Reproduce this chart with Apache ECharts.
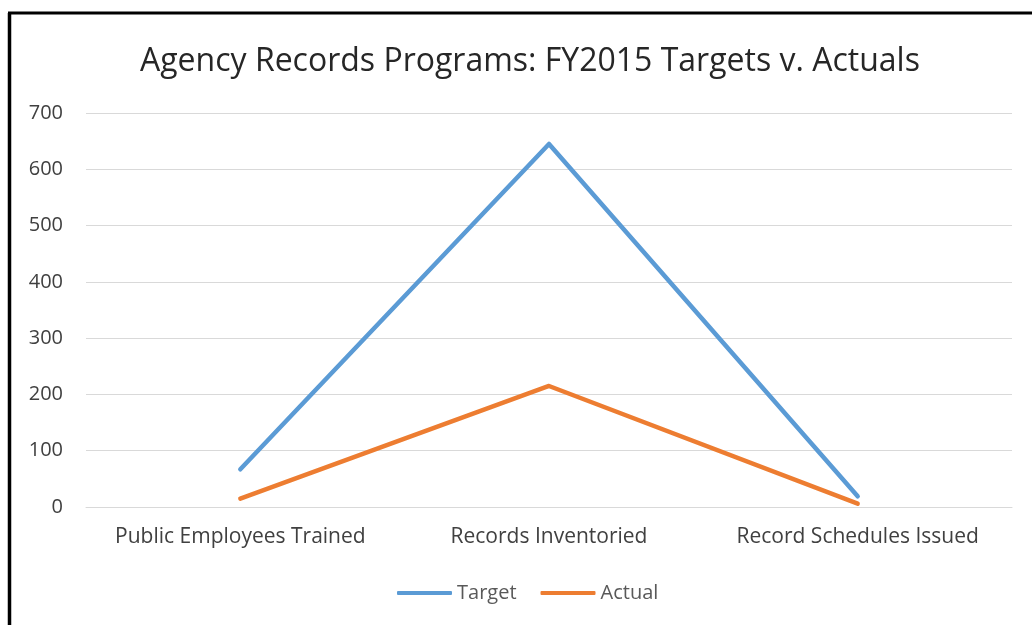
<!DOCTYPE html>
<html>
<head>
<meta charset="utf-8">
<script src="https://cdn.jsdelivr.net/npm/echarts@6/dist/echarts.min.js"></script>
<style>
  html, body { margin: 0; padding: 0; background: #fff; }
  #chart { width: 1032px; height: 625px; }
</style>
</head>
<body>
<div id="chart"></div>
<script>
// categories and values
var categories = ['Public Employees Trained', 'Records Inventoried', 'Record Schedules Issued'];
var targetData = [67, 645, 19];
var actualData = [15, 215, 6];
var yTicks = [0, 100, 200, 300, 400, 500, 600, 700];

var chart = echarts.init(document.getElementById('chart'));

chart.setOption({
  backgroundColor: '#fff',
  textStyle: { fontFamily: 'Open Sans' },
  title: {
    text: 'Agency Records Programs: FY2015 Targets v. Actuals',
    left: 135,
    top: 41,
    textStyle: { fontSize: 32, fontWeight: 'normal', color: '#262626', fontFamily: 'Open Sans' }
  },
  legend: {
    bottom: 17,
    left: 392,
    itemWidth: 55,
    itemHeight: 4,
    itemGap: 24,
    icon: 'roundRect',
    textStyle: { fontSize: 20, color: '#595959', fontFamily: 'Open Sans' },
    data: ['Target', 'Actual']
  },
  grid: { left: 86, right: 20, top: 113, bottom: 118 },
  xAxis: {
    type: 'category',
    data: categories,
    boundaryGap: true,
    axisTick: { show: false },
    axisLine: { lineStyle: { color: '#d9d9d9', width: 1 } },
    axisLabel: { fontSize: 21, color: '#404040', margin: 20, interval: 0 }
  },
  yAxis: {
    type: 'value',
    min: yTicks[0],
    max: yTicks[yTicks.length - 1],
    interval: 100,
    axisLine: { show: false },
    axisTick: { show: false },
    axisLabel: { fontSize: 20, color: '#404040', margin: 23 },
    splitLine: { lineStyle: { color: '#d9d9d9', width: 1 } }
  },
  graphic: [
    // black frame on the left and top
    { type: 'line', shape: { x1: 9.5, y1: 13, x2: 9.5, y2: 625 }, style: { stroke: '#000', lineWidth: 3.5 } },
    { type: 'line', shape: { x1: 8, y1: 13, x2: 1032, y2: 13 }, style: { stroke: '#000', lineWidth: 3 } }
  ],
  series: [
    {
      name: 'Target',
      type: 'line',
      data: targetData,
      showSymbol: false,
      symbol: 'none',
      itemStyle: { color: '#5b9bd5' },
      lineStyle: { color: '#5b9bd5', width: 4.5, cap: 'round', join: 'round' }
    },
    {
      name: 'Actual',
      type: 'line',
      data: actualData,
      showSymbol: false,
      symbol: 'none',
      itemStyle: { color: '#ed7d31' },
      lineStyle: { color: '#ed7d31', width: 4.5, cap: 'round', join: 'round' }
    }
  ]
});

window.addEventListener('resize', function () { chart.resize(); });
</script>
</body>
</html>
